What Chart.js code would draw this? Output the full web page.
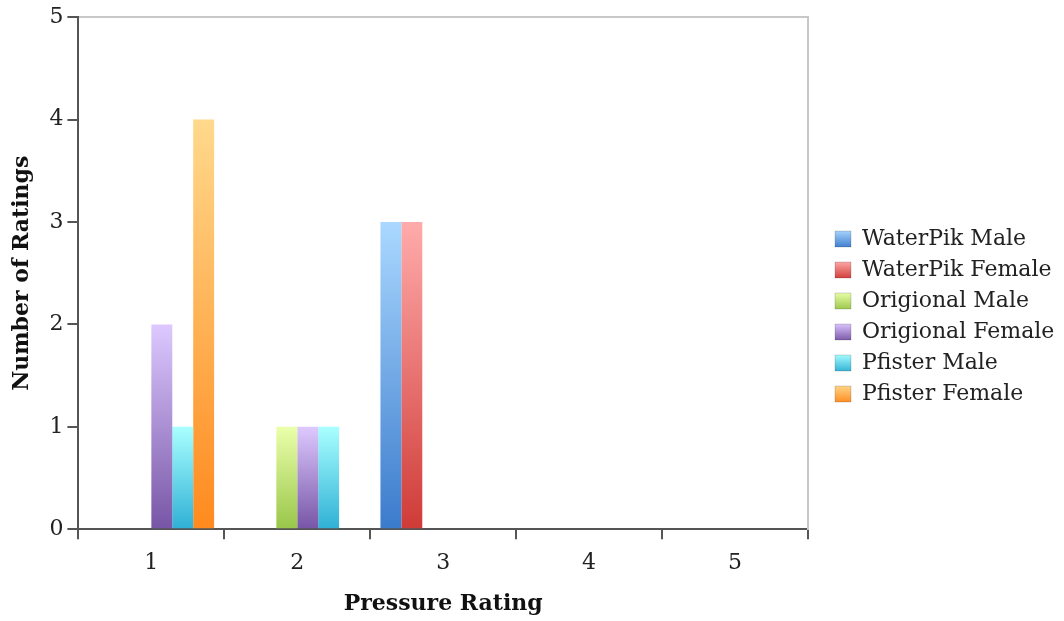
<!DOCTYPE html>
<html>
<head>
<meta charset="utf-8">
<script src="https://cdn.jsdelivr.net/npm/chart.js@4.4.1/dist/chart.umd.min.js"></script>
<style>
  html, body { margin: 0; padding: 0; background: #fff; }
  #wrap { width: 1064px; height: 621px; }
</style>
</head>
<body>
<div id="wrap"><canvas id="chart"></canvas></div>
<script>
// data
const ratings = ["1", "2", "3", "4", "5"];
const seriesNames = ["WaterPik Male", "WaterPik Female", "Origional Male", "Origional Female", "Pfister Male", "Pfister Female"];
const waterPikMale = [0, 0, 3, 0, 0];
const waterPikFemale = [0, 0, 3, 0, 0];
const origionalMale = [0, 1, 0, 0, 0];
const origionalFemale = [2, 1, 0, 0, 0];
const pfisterMale = [1, 1, 0, 0, 0];
const pfisterFemale = [4, 0, 0, 0, 0];

// light (top) / dark (bottom) colours per series
const shades = [
    ["#aad8ff", "#3b7bcc"],
    ["#ffabab", "#cf3b37"],
    ["#ebffab", "#99c649"],
    ["#ddc9ff", "#7755a6"],
    ["#a9ffff", "#2fb0d5"],
    ["#ffd98c", "#ff8a1e"],
];

const FONT = "'DejaVu Serif', serif";

function barFill(i) {
    return (ctx) => {
        const chart = ctx.chart;
        if (ctx.type !== "data" || !chart.chartArea || !ctx.parsed) return shades[i][1];
        const y = chart.scales.y;
        const top = y.getPixelForValue(ctx.parsed.y);
        const base = y.getPixelForValue(0);
        if (Math.abs(base - top) < 1) return shades[i][1];
        const g = chart.ctx.createLinearGradient(0, top, 0, base);
        g.addColorStop(0, shades[i][0]);
        g.addColorStop(1, shades[i][1]);
        return g;
    };
}

const allValues = [waterPikMale, waterPikFemale, origionalMale, origionalFemale, pfisterMale, pfisterFemale];

// gradient swatches in the legend, once the hit boxes are known
const legendGradients = {
    id: "legendGradients",
    afterUpdate(chart) {
        const legend = chart.legend;
        if (!legend || !legend.legendHitBoxes) return;
        legend.legendItems.forEach((item, i) => {
            const box = legend.legendHitBoxes[i];
            if (!box) return;
            const g = chart.ctx.createLinearGradient(0, box.top + 2, 0, box.top + box.height - 2);
            g.addColorStop(0, shades[i][0]);
            g.addColorStop(1, shades[i][1]);
            item.fillStyle = g;
        });
    }
};

new Chart(document.getElementById("chart"), {
    type: "bar",
    data: {
        labels: ratings,
        datasets: seriesNames.map((name, i) => ({
            label: name,
            data: allValues[i],
            backgroundColor: barFill(i),
            borderWidth: 0,
            categoryPercentage: 0.86,
            barPercentage: 1.0,
        })),
    },
    options: {
        responsive: true,
        maintainAspectRatio: false,
        animation: false,
        layout: { padding: { left: 9, right: 0, top: 16, bottom: 4 } },
        plugins: {
            tooltip: { enabled: false },
            legend: {
                position: "right",
                maxWidth: 238,
                labels: {
                    font: { family: FONT, size: 22 },
                    color: "#222",
                    boxWidth: 16,
                    boxHeight: 16,
                    padding: 9,
                    generateLabels(chart) {
                        return seriesNames.map((name, i) => ({
                            text: name,
                            fillStyle: shades[i][1],
                            strokeStyle: "rgba(0,0,0,0.15)",
                            lineWidth: 1,
                            datasetIndex: i,
                            fontColor: "#222",
                        }));
                    },
                },
            },
        },
        scales: {
            x: {
                grid: { drawOnChartArea: false, drawTicks: true, tickLength: 10, color: "#555", lineWidth: 2, offset: true },
                border: { display: true, color: "#555", width: 2 },
                ticks: { font: { family: FONT, size: 22 }, color: "#222", padding: 11 },
                title: {
                    display: true,
                    text: "Pressure Rating",
                    font: { family: FONT, size: 22, weight: "bold" },
                    color: "#111",
                    padding: { top: 3, bottom: 0 },
                },
            },
            xTop: {
                position: "top",
                grid: { display: false },
                ticks: { display: false },
                border: { display: true, color: "#c8c8c8", width: 2 },
                afterFit(scale) { scale.height = 0; },
            },
            y: {
                min: 0,
                max: 5,
                ticks: { stepSize: 1, font: { family: FONT, size: 22 }, color: "#222", padding: 4 },
                grid: { drawOnChartArea: false, drawTicks: true, tickLength: 11, color: "#555", lineWidth: 2 },
                border: { display: true, color: "#555", width: 2 },
                title: {
                    display: true,
                    text: "Number of Ratings",
                    font: { family: FONT, size: 22, weight: "bold" },
                    color: "#111",
                    padding: { top: 0, bottom: 10 },
                },
            },
            yRight: {
                position: "right",
                grid: { display: false },
                ticks: { display: false },
                border: { display: true, color: "#c8c8c8", width: 2 },
                afterFit(scale) { scale.width = 18; },
            },
        },
    },
    plugins: [legendGradients],
});
</script>
</body>
</html>
